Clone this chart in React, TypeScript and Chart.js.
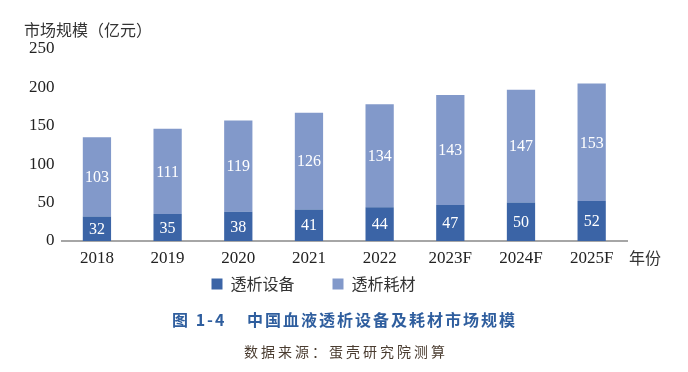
import React, { useEffect, useRef } from "react";
import { Chart, registerables } from "chart.js";

Chart.register(...registerables);

const categories = ["2018", "2019", "2020", "2021", "2022", "2023F", "2024F", "2025F"];
const equipment = [32, 35, 38, 41, 44, 47, 50, 52];
const consumables = [103, 111, 119, 126, 134, 143, 147, 153];
const seriesNames = ["透析设备", "透析耗材"];
const yTitle = "市场规模（亿元）";
const xUnit = "年份";
const figTitle = "图 1-4";
const figName = "中国血液透析设备及耗材市场规模";
const sourceText = "数据来源：蛋壳研究院测算";

const DARK = "#3b64a6";
const LIGHT = "#8299ca";
const SERIF = "'Liberation Serif', 'Times New Roman', serif";
const SANS = "'Noto Sans CJK SC', 'Noto Sans', sans-serif";

const legendShift = {
  id: "legendShift",
  afterLayout(chart: any) {
    const lg = chart.legend;
    if (lg) {
      lg.top -= 33;
      lg.bottom -= 33;
    }
  },
};

const textPlugin = {
  id: "texts",
  afterDraw(chart: any) {
    const ctx = chart.ctx;
    const area = chart.chartArea;
    ctx.save();
    // bar value labels
    ctx.font = `16px ${SERIF}`;
    ctx.fillStyle = "#ffffff";
    ctx.textAlign = "center";
    ctx.textBaseline = "middle";
    chart.data.datasets.forEach((ds: any, di: number) => {
      const meta = chart.getDatasetMeta(di);
      meta.data.forEach((bar: any, i: number) => {
        const p = bar.getProps(["x", "y", "base"], true);
        ctx.fillText(String(ds.data[i]), p.x, (p.y + p.base) / 2 + 1);
      });
    });
    // y title
    ctx.font = `16px ${SANS}`;
    ctx.fillStyle = "#333333";
    ctx.textAlign = "left";
    ctx.fillText(yTitle, 24, 30);
    // x unit
    ctx.fillText(xUnit, area.right + 2, 258);
    // figure title
    ctx.fillStyle = "#2f5e9e";
    ctx.font = `bold 16px ${SANS}`;
    (ctx as any).letterSpacing = "2px";
    ctx.fillText(figTitle, 172, 320);
    ctx.fillText(figName, 247, 320);
    // source
    ctx.fillStyle = "#4a3c30";
    ctx.font = `14px ${SANS}`;
    (ctx as any).letterSpacing = "3px";
    ctx.textAlign = "center";
    ctx.fillText(sourceText, 346, 352);
    ctx.restore();
  },
};

export default function App() {
  const ref = useRef<HTMLCanvasElement>(null);
  useEffect(() => {
    if (!ref.current) return;
    const chart = new Chart(ref.current, {
      type: "bar",
      data: {
        labels: categories,
        datasets: [
          { label: seriesNames[0], data: equipment, backgroundColor: DARK, borderWidth: 0, barPercentage: 0.4, categoryPercentage: 1 },
          { label: seriesNames[1], data: consumables, backgroundColor: LIGHT, borderWidth: 0, barPercentage: 0.4, categoryPercentage: 1 },
        ],
      },
      options: {
        responsive: false,
        animation: false,
        layout: { padding: { left: 0, right: 61, top: 49, bottom: 37 } },
        plugins: {
          legend: {
            position: "bottom",
            labels: {
              boxWidth: 11,
              boxHeight: 11,
              padding: 38,
              color: "#333333",
              font: { family: SANS, size: 16 },
            },
          },
          tooltip: { enabled: false },
        },
        scales: {
          x: {
            stacked: true,
            grid: { display: false, drawTicks: false },
            border: { display: true, color: "#a6a6a6", width: 2 },
            ticks: { color: "#222222", padding: 7, font: { family: SERIF, size: 17 } },
            afterFit: (s: any) => { s.height = 30; },
          },
          y: {
            stacked: true,
            min: 0,
            max: 250,
            grid: { display: false, drawTicks: false },
            border: { display: false },
            ticks: { stepSize: 50, color: "#222222", padding: 7, font: { family: SERIF, size: 17 } },
            afterFit: (s: any) => { s.width = 61.6; },
          },
        },
      },
      plugins: [legendShift, textPlugin],
    });
    return () => chart.destroy();
  }, []);
  return (
    <div style={{ position: "fixed", left: 0, top: 0, width: 688, height: 372, background: "#ffffff" }}>
      <canvas ref={ref} width={688} height={372} />
    </div>
  );
}
